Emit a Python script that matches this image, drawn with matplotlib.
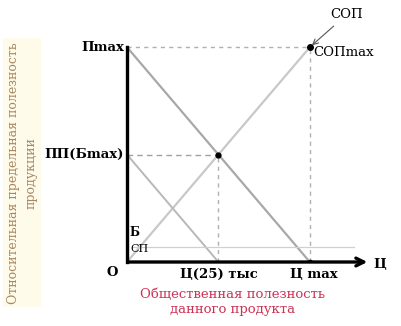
import matplotlib.pyplot as plt

# значения в тыс.
P_MAX = 50          # Пmax
C_MAX = 50          # Цmax
C_OPT = 25          # Ц25 тыс
PP_OPT = 25         # ПП(Бmax)
SP_LEVEL = 3.5      # уровень СП

demand_x = [0, C_MAX]
demand_y = [P_MAX, 0]
sop_x = [0, C_MAX]
sop_y = [0, P_MAX]
low_x = [0, C_OPT]
low_y = [PP_OPT, 0]

plt.rcParams['font.family'] = ['DejaVu Serif']

fig = plt.figure(figsize=(4.01, 3.26), dpi=100)
ax = fig.add_axes([0.3167, 0.1963, 0.611, 0.7117])
ax.set_xlim(0, 67)
ax.set_ylim(0, 54)
ax.axis('off')

# линии
ax.plot(demand_x, demand_y, color='#a8a8a8', lw=1.6)
ax.plot(sop_x, sop_y, color='#c8c8c8', lw=1.6)
ax.plot(low_x, low_y, color='#b8b8b8', lw=1.4)
ax.plot([1.5, 62], [SP_LEVEL, SP_LEVEL], color='#d0d0d0', lw=0.9)

# пунктир
ax.plot([0, C_MAX], [P_MAX, P_MAX], color='#b0b0b0', lw=1, ls=(0, (3, 3)))
ax.plot([C_MAX, C_MAX], [0, P_MAX], color='#b0b0b0', lw=1, ls=(0, (3, 3)))
ax.plot([0, C_OPT], [PP_OPT, PP_OPT], color='#a0a0a0', lw=1, ls=(0, (4, 3)))
ax.plot([C_OPT, C_OPT], [0, PP_OPT], color='#b0b0b0', lw=1, ls=(0, (3, 3)))

# точки
ax.plot([C_OPT], [PP_OPT], 'o', color='black', ms=3.5)
ax.plot([C_MAX], [P_MAX], 'o', color='black', ms=4)
ax.plot([C_MAX], [0], 'o', color='black', ms=3)

# оси
ax.plot([0, 0], [0, P_MAX], color='black', lw=2.4, clip_on=False)
ax.annotate('', xy=(66.5, 0), xytext=(-0.3, 0),
            arrowprops=dict(arrowstyle='->', lw=2.4, color='black',
                            mutation_scale=14), annotation_clip=False)

# подписи
fs = 9.5
ax.text(-0.8, P_MAX, 'Пmax', ha='right', va='center', fontsize=fs, fontweight='bold')
ax.text(-0.8, PP_OPT, 'ПП(Бmax)', ha='right', va='center', fontsize=fs, fontweight='bold')
ax.text(C_OPT, -1.5, 'Ц(25) тыс', ha='center', va='top', fontsize=fs, fontweight='bold')
ax.text(C_MAX + 1, -1.5, 'Ц max', ha='center', va='top', fontsize=fs, fontweight='bold')
ax.text(-2.5, -1.0, 'О', ha='right', va='top', fontsize=fs, fontweight='bold')
ax.text(67.5, -0.6, 'Ц', ha='left', va='center', fontsize=fs, fontweight='bold')
ax.text(0.8, 6.9, 'Б', ha='left', va='center', fontsize=fs - 1, fontweight='bold')
ax.text(0.8, 3.0, 'СП', ha='left', va='center', fontsize=fs - 1.5)
ax.text(C_MAX + 0.8, P_MAX - 1.2, 'СОПmax', ha='left', va='center', fontsize=fs)
ax.annotate('СОП', xy=(C_MAX, P_MAX), xytext=(C_MAX + 5.5, P_MAX + 7.5),
            ha='left', va='center', fontsize=fs,
            arrowprops=dict(arrowstyle='->', color='#555555', lw=0.8))

fig.text(0.055, 0.47, 'Относительная предельная полезность\nпродукции', rotation=90,
         ha='center', va='center', fontsize=9, color='#a88660', linespacing=1.5,
         bbox=dict(boxstyle='square,pad=0.3', fc='#fffbea', ec='none'))
fig.text(0.58, 0.075, 'Общественная полезность\nданного продукта', ha='center',
         va='center', fontsize=9.5, color='#cc3355', linespacing=1.2)

fig.savefig('out.png', dpi=100)
